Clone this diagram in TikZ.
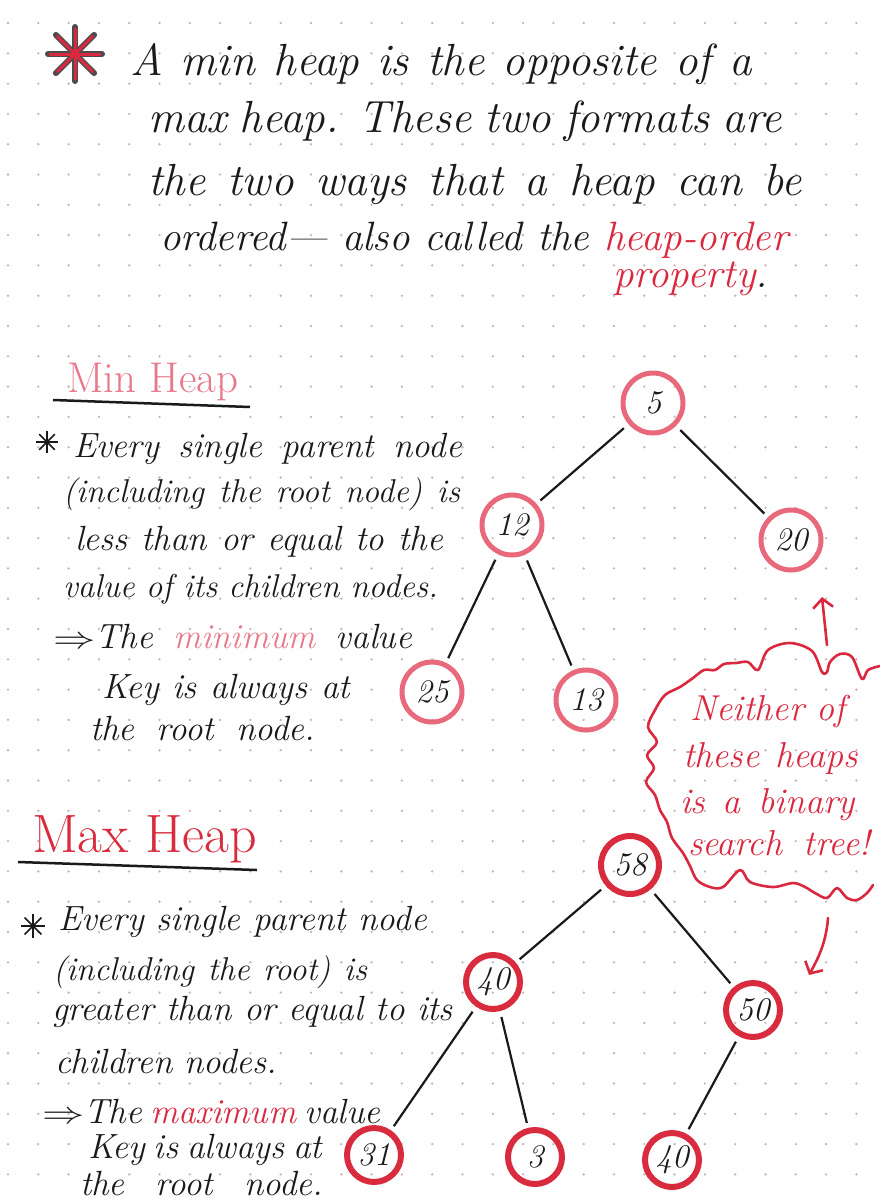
\documentclass[tikz,border=0pt]{standalone}
\usepackage{tikz}
\usetikzlibrary{arrows.meta}
\definecolor{minred}{HTML}{E8687C}
\definecolor{maxred}{HTML}{D92B3E}
\definecolor{textred}{HTML}{D9283F}
\definecolor{minpink}{HTML}{E8788A}
\definecolor{dotc}{HTML}{C9B3B8}
\definecolor{inkc}{HTML}{1A1A1A}
\newcommand\spreadline[2]{\makebox[#1][s]{#2}}
\newcommand\bigarrow{\scalebox{1.7}[1.25]{$\Rightarrow$}}
\begin{document}
\begin{tikzpicture}[x=1pt,y=-1pt,
  txt/.style={anchor=base west, inner sep=0pt, outer sep=0pt, text=inkc},
  big/.style={txt, font=\fontsize{45}{52}\selectfont\itshape},
  bigsmall/.style={txt, font=\fontsize{41}{48}\selectfont\itshape},
  body/.style={txt, font=\fontsize{35}{40}\selectfont\itshape},
  bodysmall/.style={txt, font=\fontsize{33}{40}\selectfont\itshape},
  head/.style={txt, font=\fontsize{43}{52}\selectfont},
  cloudtxt/.style={txt, text=textred, font=\fontsize{36}{40}\selectfont\itshape},
  minnode/.style={circle, draw=minred, line width=5pt, minimum size=60pt, inner sep=0pt, text=inkc, font=\fontsize{33}{38}\selectfont\itshape},
  maxnode/.style={circle, draw=maxred, line width=6pt, minimum size=54pt, inner sep=0pt, text=inkc, font=\fontsize{33}{38}\selectfont\itshape},
  treeedge/.style={draw=inkc, line width=2.2pt, shorten <=6pt, shorten >=5pt},
  pen/.style={draw=textred, line width=2.6pt, line cap=round, -{Straight Barb[length=9pt,width=20pt]}},
  cloudline/.style={draw=textred, line width=2.6pt, line cap=round, line join=round}]
\useasboundingbox (0,0) rectangle (880,1203);
\fill[white] (0,0) rectangle (880,1203);
% dot grid
\foreach \i in {0,...,29}{\foreach \j in {0,...,39}{\fill[dotc] ({8+30.3*\i},{23+30.3*\j}) circle (1.3pt);}}
% red asterisk
\begin{scope}[shift={(75,54)}]
\foreach \a in {0,45,90,135}{\draw[line width=6pt, black!70, line cap=round] (\a:27pt) -- (\a+180:27pt);}
\foreach \a in {0,45,90,135}{\draw[line width=3pt, textred, line cap=round] (\a:25pt) -- (\a+180:25pt);}
\end{scope}
% top paragraph
\node[big] (t1) at (130,75) {\spreadline{622pt}{A min heap is the opposite of a}};
\node[big] (t2) at (148,132) {\spreadline{634pt}{max heap. These two formats are}};
\node[big] (t3) at (148,195) {\spreadline{654pt}{the two ways that a heap can be}};
\node[bigsmall] (t4) at (160,250) {\spreadline{628pt}{ordered— also called the \textcolor{textred}{heap-order}}};
\node[bigsmall] (t5) at (613,287) {\textcolor{textred}{property}.};
% Min heap heading
\node[head, text=minpink] (minhead) at (67,392) {Min Heap};
\coordinate (mu1) at (53,400); \coordinate (mu2) at (250,407);
\draw[inkc, line width=2.5pt] (mu1) -- (mu2);
% small asterisk min
\begin{scope}[shift={(47,442)}]
\foreach \a in {0,45,90,135}{\draw[line width=1.6pt, inkc] (\a:11pt) -- (\a+180:11pt);}
\end{scope}
\node[body] (m1) at (73,457) {\spreadline{389pt}{Every single parent node}};
\node[bodysmall] (m2) at (63,502) {\spreadline{397pt}{(including the root node) is}};
\node[body] (m3) at (75,550) {\spreadline{368pt}{less than or equal to the}};
\node[bodysmall] (m4) at (63,597) {\spreadline{375pt}{value of its children nodes.}};
\node[body] (m5) at (53,648) {\spreadline{359pt}{\bigarrow The \textcolor{minpink}{minimum} value}};
\node[body] (m6) at (102,698) {\spreadline{248pt}{Key is always at}};
\node[body] (m7) at (90,740) {\spreadline{225pt}{the root node.}};
% Min heap tree
\node[minnode] (n5) at (653,403) {5};
\node[minnode] (n12) at (512,525) {12};
\node[minnode] (n20) at (791,540) {20};
\node[minnode] (n25) at (432,692) {25};
\node[minnode] (n13) at (586,700) {13};
\draw[treeedge] (n5) -- (n12);
\draw[treeedge] (n5) -- (n20);
\draw[treeedge] (n12) -- (n25);
\draw[treeedge] (n12) -- (n13);
% Max heap heading
\node[head, text=maxred, font=\fontsize{54}{62}\selectfont] (maxhead) at (32,852) {Max Heap};
\coordinate (xu1) at (18,862); \coordinate (xu2) at (257,870);
\draw[inkc, line width=2.5pt] (xu1) -- (xu2);
\begin{scope}[shift={(33,926)}]
\foreach \a in {0,45,90,135}{\draw[line width=1.6pt, inkc] (\a:12pt) -- (\a+180:12pt);}
\end{scope}
\node[body] (x1) at (58,930) {\spreadline{369pt}{Every single parent node}};
\node[bodysmall] (x2) at (53,980) {\spreadline{314pt}{(including the root) is}};
\node[body] (x3) at (52,1020) {\spreadline{401pt}{greater than or equal to its}};
\node[body] (x4) at (55,1073) {\spreadline{222pt}{children nodes.}};
\node[body] (x5) at (42,1123) {\spreadline{335pt}{\bigarrow The \textcolor{textred}{maximum} value}};
\node[body] (x6) at (88,1158) {\spreadline{234pt}{Key is always at}};
\node[body] (x7) at (80,1195) {\spreadline{243pt}{the root node.}};
% Max heap tree
\node[maxnode, minimum size=58pt] (n58) at (630,865) {58};
\node[maxnode] (n40) at (493,982) {40};
\node[maxnode] (n50) at (753,1010) {50};
\node[maxnode] (n31) at (374,1155) {31};
\node[maxnode] (n3) at (535,1157) {3};
\node[maxnode] (n40b) at (672,1160) {40};
\draw[treeedge] (n58) -- (n40);
\draw[treeedge] (n58) -- (n50);
\draw[treeedge] (n40) -- (n31);
\draw[treeedge] (n40) -- (n3);
\draw[treeedge] (n50) -- (n40b);
% cloud
\draw[cloudline] plot[smooth, tension=0.55] coordinates {
 (880,666) (868,670) (862,679) (852,657) (840,654) (830,662) (827,672)
 (822,672) (812,651) (790,643) (768,650) (758,670) (748,662) (736,663) (724,664) (715,670)
 (704,670) (693,678) (680,687) (665,695) (655,710) (648,727) (657,742) (647,755) (654,768)
 (646,782) (655,795) (660,810) (667,822) (672,838) (683,853) (690,866) (697,880) (710,887)
 (723,887) (740,870) (750,882) (773,887) (793,883) (805,887) (815,893) (827,898) (837,888)
 (847,898) (857,900) (867,893) (873,885)};
\node[cloudtxt] (c1) at (690,720) {\spreadline{155pt}{Neither of}};
\node[cloudtxt] (c2) at (683,767) {\spreadline{175pt}{these heaps}};
\node[cloudtxt] (c3) at (680,813) {\spreadline{175pt}{is a binary}};
\node[cloudtxt] (c4) at (688,855) {\spreadline{182pt}{search tree!}};
% arrows from cloud
\coordinate (ua) at (827,645); \coordinate (ub) at (822,597);
\draw[pen] (ua) -- (ub);
\coordinate (da) at (828,918); \coordinate (db) at (809,975);
\draw[pen] (da) .. controls (826,945) and (816,962) .. (db);
\end{tikzpicture}
\end{document}
